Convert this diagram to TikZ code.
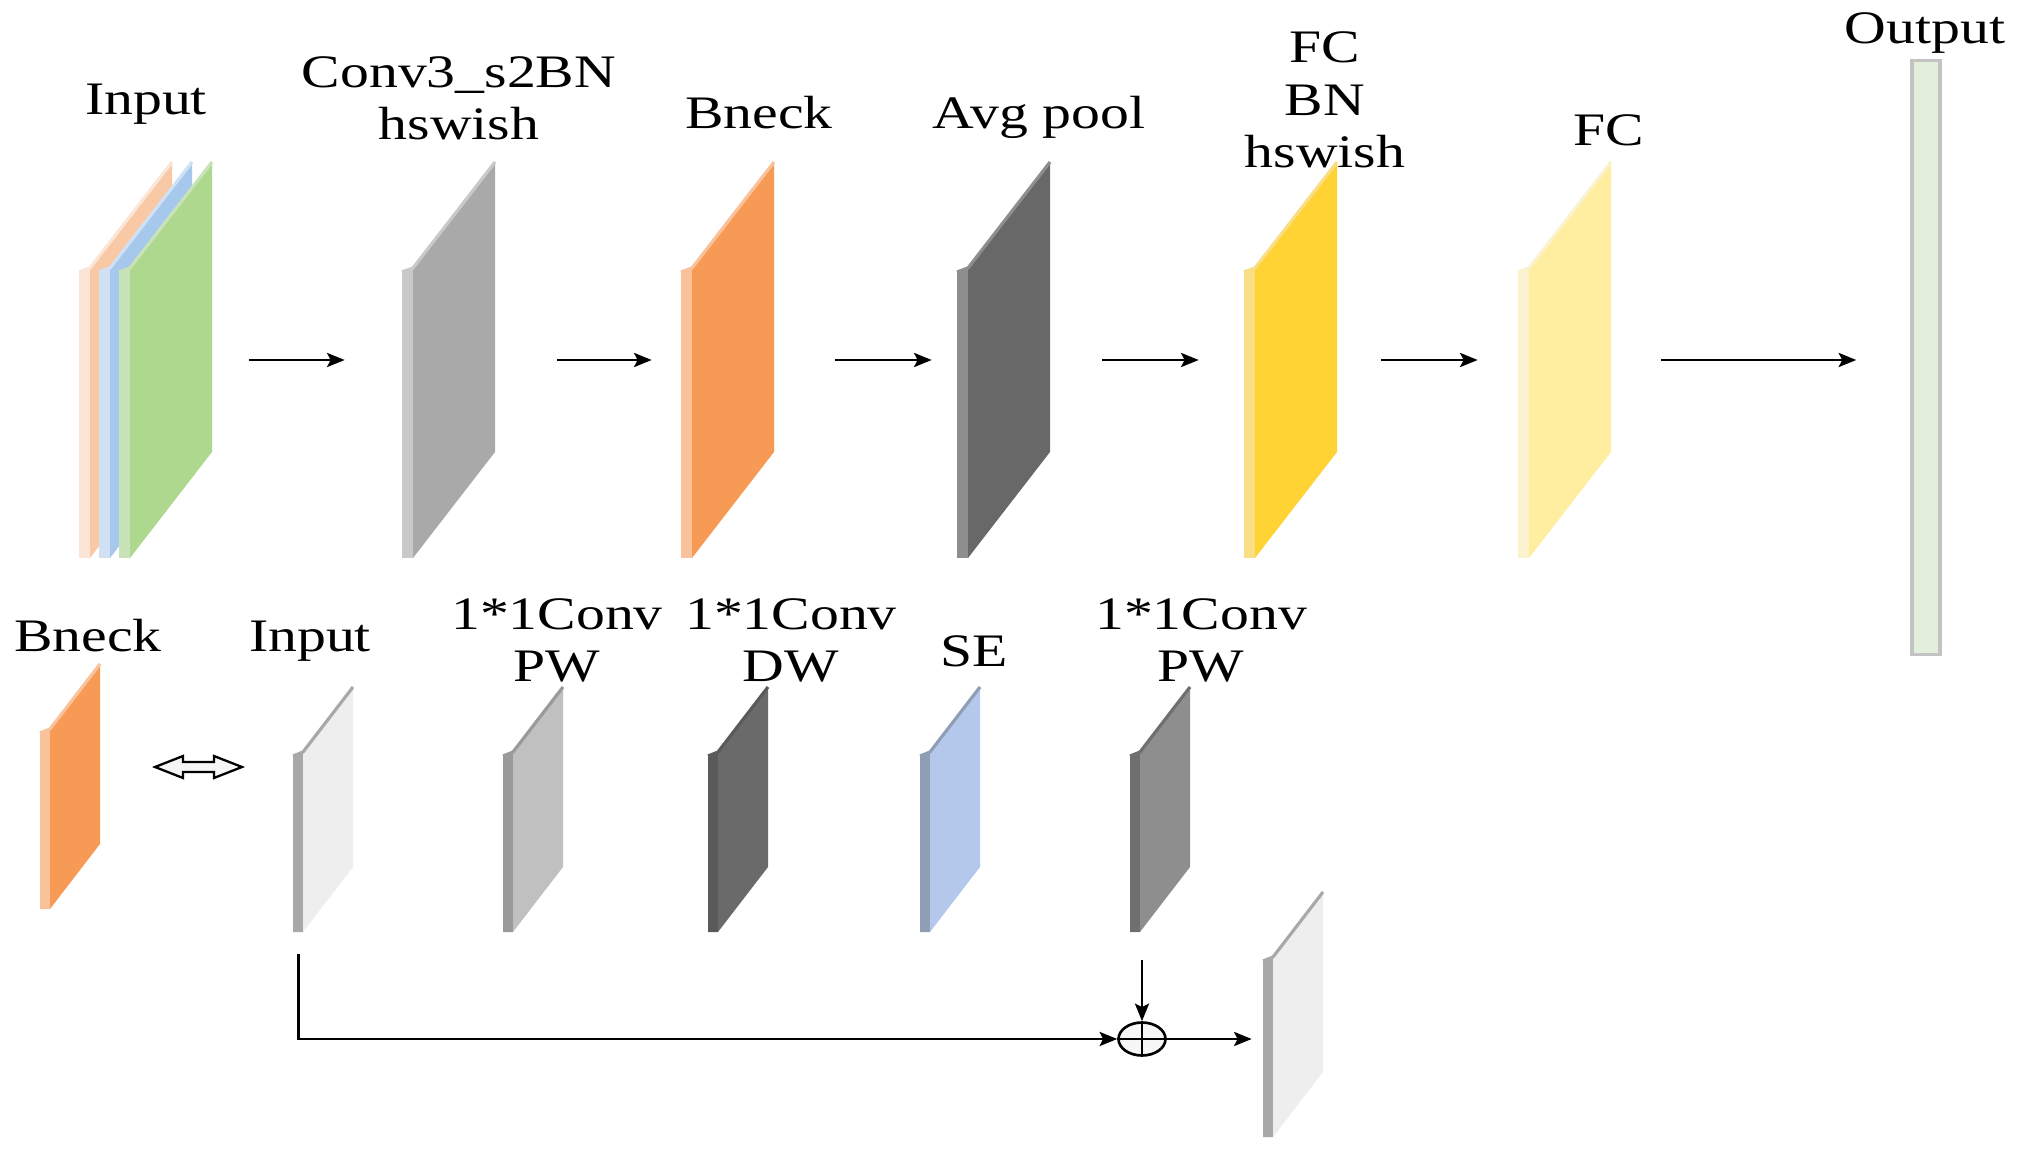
\documentclass[tikz,border=0pt]{standalone}
\usepackage{fontspec}
\setmainfont[FakeStretch=1.24]{Liberation Serif}
\usetikzlibrary{arrows.meta}
\usetikzlibrary{shapes.geometric}

\definecolor{convface}{HTML}{A9A9A9}
\definecolor{convside}{HTML}{C9C9C9}
\definecolor{bneckface}{HTML}{F79A55}
\definecolor{bneckside}{HTML}{F9C29B}
\definecolor{poolface}{HTML}{686868}
\definecolor{poolside}{HTML}{8E8E8E}
\definecolor{fcbnface}{HTML}{FFD333}
\definecolor{fcbnside}{HTML}{F9DE85}
\definecolor{fcface}{HTML}{FFEE9F}
\definecolor{fcside}{HTML}{FBF2CF}
\definecolor{inrface}{HTML}{F9C9A6}
\definecolor{inrside}{HTML}{FBE5D6}
\definecolor{inbface}{HTML}{A5C8EC}
\definecolor{inbside}{HTML}{CFE1F3}
\definecolor{ingface}{HTML}{AFD88F}
\definecolor{ingside}{HTML}{C9E3B8}
\definecolor{xface}{HTML}{EEEEEE}
\definecolor{xside}{HTML}{A8A8A8}
\definecolor{pwface}{HTML}{C0C0C0}
\definecolor{pwside}{HTML}{9A9A9A}
\definecolor{dwface}{HTML}{6A6A6A}
\definecolor{dwside}{HTML}{5A5A5A}
\definecolor{seface}{HTML}{B4C8EC}
\definecolor{seside}{HTML}{8F9DB5}
\definecolor{pwtface}{HTML}{8E8E8E}
\definecolor{pwtside}{HTML}{6F6F6F}
\definecolor{barfill}{HTML}{E2EFDA}
\definecolor{barline}{HTML}{C3C3C3}

% #1 name, #2 #3 bottom left of face, #4 side, #5 face width, #6 height, #7 skew, #8 #9 colours
\newcommand{\slab}[9]{%
  \fill[#8] (#2-#4,#3) -- ++(0,-#6+4) -- (#2,#3-#6) -- (#2,#3) -- cycle;
  \fill[#9] (#2,#3) -- ++(0,-#6) -- ++(#5,-#7) -- ++(0,#6) -- cycle;
  \draw[#8,line width=1.8pt,line join=round] (#2-#4,#3-#6+4) -- (#2,#3-#6) -- ++(#5,-#7);
  \node[box,minimum width={(#4+#5)*0.02cm},minimum height={(#6+#7)*0.02cm}] (#1) at ({#2+(#5-#4)/2},{#3-(#6+#7)/2}) {};
}
\newcommand{\bigslab}[5]{\slab{#1}{#2}{#3}{11}{82}{290}{106}{#4}{#5}}
\newcommand{\smallslab}[5]{\slab{#1}{#2}{#3}{10}{50}{180}{65}{#4}{#5}}

\tikzset{
  box/.style={inner sep=0pt},
  lbl/.style={font=\fontsize{26.5}{30}\selectfont,inner sep=0pt,anchor=base,align=center},
  arr/.style={-{Stealth[length=10pt,width=8pt,inset=2pt]},line width=1.5pt},
}

\begin{document}
\begin{tikzpicture}[x=0.02cm,y=-0.02cm]
\useasboundingbox (0,0) rectangle (2021,1151);

% top row
\bigslab{in-r}{90}{558}{inrside}{inrface} % input, red
\bigslab{in-b}{110}{558}{inbside}{inbface} % input, blue
\bigslab{in}{130}{558}{ingside}{ingface} % input, green
\bigslab{conv}{413}{558}{convside}{convface} % conv
\bigslab{bneck}{692}{558}{bneckside}{bneckface} % bneck
\bigslab{pool}{968}{558}{poolside}{poolface} % avg pool
\bigslab{fcbn}{1255}{558}{fcbnside}{fcbnface} % fc bn hswish
\bigslab{fc}{1529}{558}{fcside}{fcface} % fc
\node[box,draw=barline,fill=barfill,line width=2pt,minimum width=0.56cm,minimum height=11.88cm] (out) at (1926,357.5) {}; % output

\node[lbl] (t-in) at (146,115) {Input};
\node[lbl] (t-conv) at (459,140) {Conv3\_s2BN\\hswish};
\node[lbl] (t-bneck) at (759,129) {Bneck};
\node[lbl] (t-pool) at (1039,129) {Avg pool};
\node[lbl] (t-fcbn) at (1325,168) {FC\\BN\\hswish};
\node[lbl] (t-fc) at (1609,146) {FC};
\node[lbl] (t-out) at (1925,44) {Output};

\draw[arr,shorten <=0.74cm,shorten >=1.14cm] (in.east) -- (in.east -| conv.west);
\draw[arr,shorten <=1.24cm,shorten >=0.58cm] (conv.east) -- (conv.east -| bneck.west);
\draw[arr,shorten <=1.22cm,shorten >=0.5cm] (bneck.east) -- (bneck.east -| pool.west);
\draw[arr,shorten <=1.04cm,shorten >=0.9cm] (pool.east) -- (pool.east -| fcbn.west);
\draw[arr,shorten <=0.88cm,shorten >=0.8cm] (fcbn.east) -- (fcbn.east -| fc.west);
\draw[arr,shorten <=1.0cm,shorten >=1.08cm] (fc.east) -- (fc.east -| out.west);

% bottom row
\smallslab{bn-s}{50}{909}{bneckside}{bneckface} % bneck
\smallslab{x-in}{303}{932}{xside}{xface} % input
\smallslab{pw1}{513}{932}{pwside}{pwface} % pw
\smallslab{dw}{718}{932}{dwside}{dwface} % dw
\smallslab{se}{930}{932}{seside}{seface} % se
\smallslab{pw2}{1140}{932}{pwtside}{pwtface} % pw
\smallslab{x-out}{1273}{1137}{xside}{xface} % output

\node[lbl] (b-bneck) at (88,651) {Bneck};
\node[lbl] (b-in) at (310,651) {Input};
\node[lbl] (b-pw1) at (557,682) {1*1Conv\\PW};
\node[lbl] (b-dw) at (791,682) {1*1Conv\\DW};
\node[lbl] (b-se) at (974,666) {SE};
\node[lbl] (b-pw2) at (1201,682) {1*1Conv\\PW};

% equivalence arrow
\draw[line width=1.3pt,fill=black!4] (155,767) -- (183,756) -- (183,762) -- (214,762) -- (214,756) -- (242,767) -- (214,778) -- (214,772) -- (183,772) -- (183,778) -- cycle;

% residual add
\node[ellipse,draw,line width=1.5pt,fill=black!3,inner sep=0pt,minimum width=0.94cm,minimum height=0.66cm] (add) at (1142,1039) {};
\draw[line width=1.5pt] (add.north) -- (add.south) (add.west) -- (add.east);
\draw[arr] (add.north |- pw2.south) ++(0,28) -- (add.north);
\draw[arr] ([xshift=0.12cm]x-in.south west) ++(0,22) |- (add.west);
\draw[arr,shorten >=0.22cm] (add.east) -- (add.east -| x-out.west);

\end{tikzpicture}
\end{document}
